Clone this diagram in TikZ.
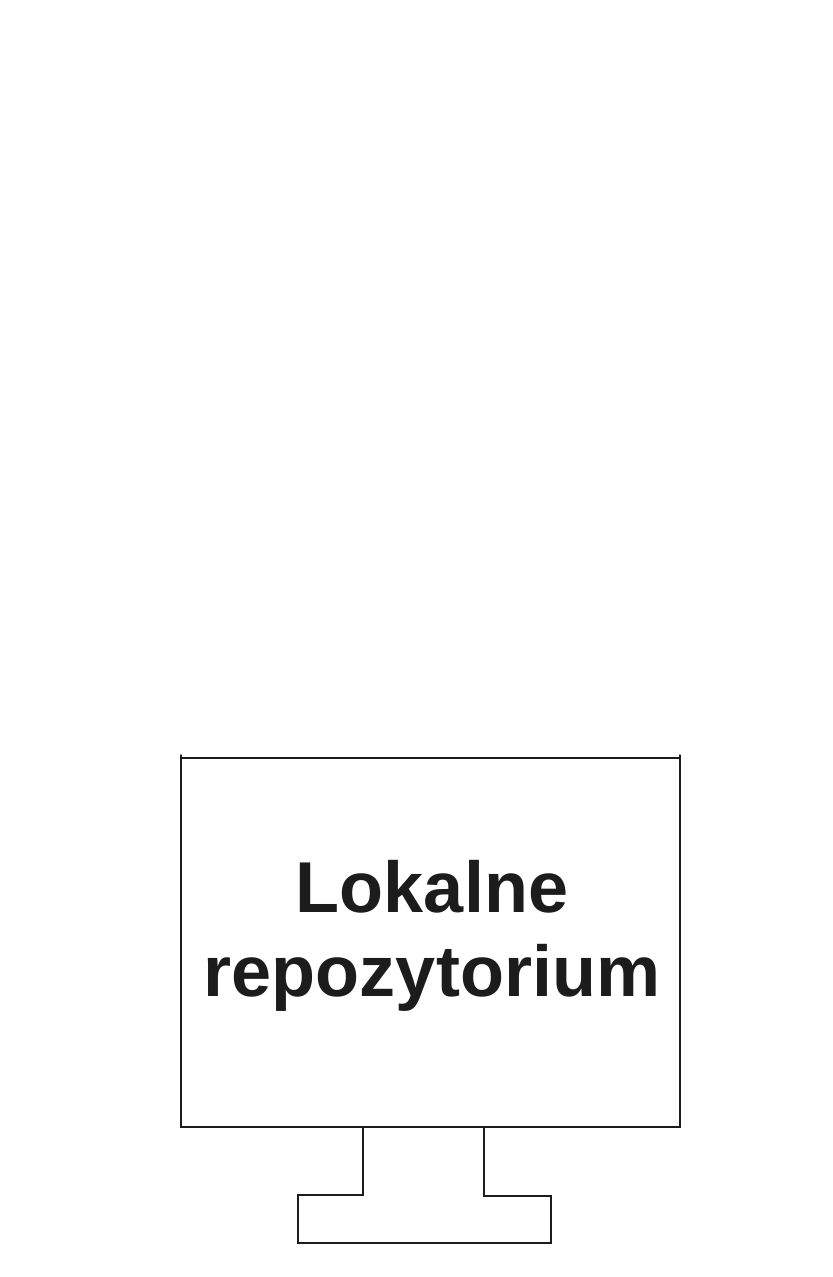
\documentclass[tikz,border=0pt]{standalone}
\usepackage{fontspec}
\newfontfamily\repofont{Liberation Sans}
\definecolor{ink}{HTML}{1C1C1C}
\begin{document}
\begin{tikzpicture}[x=0.02cm, y=-0.02cm, line cap=round, line width=0.8pt]
		% page area, in pixels of the sheet
		  \useasboundingbox (0,0) rectangle (832,1277);
		% screen of the monitor
		  \coordinate (screen nw) at (181,758);
		  \coordinate (screen se) at (680,1127);
		  \draw [ink] (screen nw) rectangle (screen se);
		  \draw [ink] (181,755) -- (screen nw) (680,755) -- (680,758);
		  \node [ink, align=center, font=\repofont\bfseries\fontsize{41}{48}\selectfont] (label) at (432,936) {Lokalne\\repozytorium};
		% stand: neck and foot
		  \draw [ink] (363,1127) -- (363,1195) -- (298,1195) -- (298,1243)
		              -- (551,1243) -- (551,1196) -- (484,1196) -- (484,1127);
	\end{tikzpicture}
\end{document}
